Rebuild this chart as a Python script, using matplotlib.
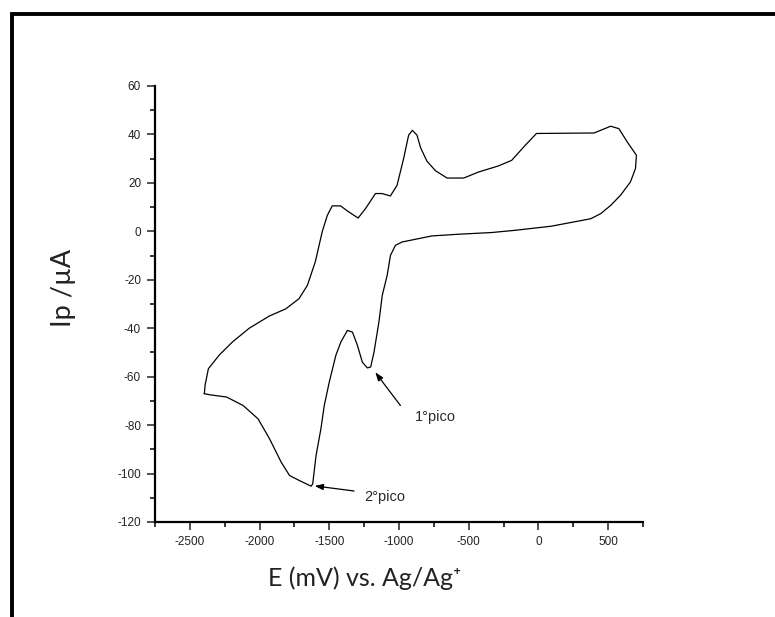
import numpy as np
import matplotlib
matplotlib.use("Agg")
import matplotlib.pyplot as plt
from matplotlib.patches import Rectangle
from matplotlib.ticker import MultipleLocator

# cyclic voltammogram (E in mV vs Ag/Ag+, Ip in uA)
E_FWD = [-2396, -2391, -2367, -2288, -2193, -2074, -1931, -1812, -1717, -1657,
         -1600, -1550, -1514, -1479, -1419, -1360, -1293, -1240, -1169, -1121,
         -1062, -1014, -967, -931, -904, -871, -845, -800, -738, -655,
         -536, -429, -287, -192, -98, -14, 399, 446, 518, 577,
         637, 703]
I_FWD = [-67.0, -63.6, -56.7, -51.0, -45.6, -40.0, -35.0, -32.0, -27.8, -22.3,
         -12.5, 0.0, 6.6, 10.5, 10.5, 8.0, 5.5, 9.4, 15.6, 15.6,
         14.6, 19.0, 30.0, 39.7, 41.7, 39.7, 34.5, 29.0, 25.0, 22.0,
         22.0, 24.5, 27.0, 29.3, 35.3, 40.4, 40.6, 41.7, 43.4, 42.4,
         36.9, 31.4]
E_REV = [696, 660, 589, 518, 447, 375, 256, 90, -171, -337,
         -574, -764, -978, -1026, -1061, -1085, -1120, -1144, -1179, -1203,
         -1227, -1263, -1298, -1334, -1370, -1417, -1453, -1500, -1536, -1560,
         -1595, -1619, -1631, -1714, -1785, -1845, -1928, -2011, -2118, -2237,
         -2355, -2396]
I_REV = [25.9, 20.4, 14.9, 10.7, 7.3, 5.2, 3.9, 2.1, 0.4, -0.5,
         -1.2, -1.9, -4.4, -5.8, -9.9, -18.2, -26.4, -37.4, -49.8, -56.0,
         -56.4, -54.0, -47.1, -41.6, -40.9, -45.7, -51.2, -62.2, -71.9, -81.5,
         -92.6, -104.3, -105.2, -102.9, -100.8, -95.3, -85.7, -77.4, -71.9, -68.4,
         -67.5, -67.0]

PEAK_LABELS = ["1°pico", "2°pico"]
PEAK_TIP = [(-1170, -58.2), (-1605, -105.1)]
PEAK_TAIL = [(-990, -71.9), (-1322, -107.2)]
PEAK_TEXT = [(-883, -76.7), (-1249, -109.7)]

plt.rcParams["font.family"] = ["Liberation Sans", "DejaVu Sans"]
plt.rcParams["axes.unicode_minus"] = False

fig = plt.figure(figsize=(7.75, 6.17), dpi=100)
W, H = 775.0, 617.0
ax = fig.add_axes([155 / W, 1 - 522 / H, (643 - 155) / W, (522 - 86) / H])

e = np.r_[E_FWD, E_REV]
i = np.r_[I_FWD, I_REV]
ax.plot(e, i, color="black", lw=0.9)

for lab, tip, tail, txt in zip(PEAK_LABELS, PEAK_TIP, PEAK_TAIL, PEAK_TEXT):
    ax.annotate("", xy=tip, xytext=tail,
                arrowprops=dict(arrowstyle="-|>,head_length=0.5,head_width=0.18",
                                color="black", lw=0.9, shrinkA=0, shrinkB=0))
    ax.text(txt[0], txt[1], lab, fontsize=10.5, va="center", ha="left", color="#2a2a2a")

ax.set_xlim(-2750, 750)
ax.set_ylim(-120, 60)
ax.xaxis.set_minor_locator(MultipleLocator(250))
ax.yaxis.set_major_locator(MultipleLocator(20))
ax.yaxis.set_minor_locator(MultipleLocator(10))
ax.set_xticks([-2500, -2000, -1500, -1000, -500, 0, 500])
ax.tick_params(which="major", direction="out", length=6, width=1.1,
               labelsize=8.5, colors="#222222", pad=4)
ax.tick_params(which="minor", direction="out", length=3.5, width=1.1)
for s in ("top", "right"):
    ax.spines[s].set_visible(False)
for s in ("left", "bottom"):
    ax.spines[s].set_linewidth(1.6)

lab_font = ["Lato", "DejaVu Sans"]
fig.text(365 / W, 1 - 578 / H, "E (mV) vs. Ag/Ag\u207a", ha="center", va="center",
         fontsize=18, family=lab_font, color="#222222")
fig.text(64 / W, 1 - 288 / H, "Ip /\u00b5A", ha="center", va="center",
         rotation=90, fontsize=19.5, family=lab_font, color="#222222")

# outer frame, cut off at right and bottom like the original screenshot
fig.patches.append(Rectangle((12 / W, -0.2), 2.0, 1.2 - 14 / H, transform=fig.transFigure,
                             fill=False, lw=2.8, ec="black"))

fig.savefig("out.png", dpi=100)
